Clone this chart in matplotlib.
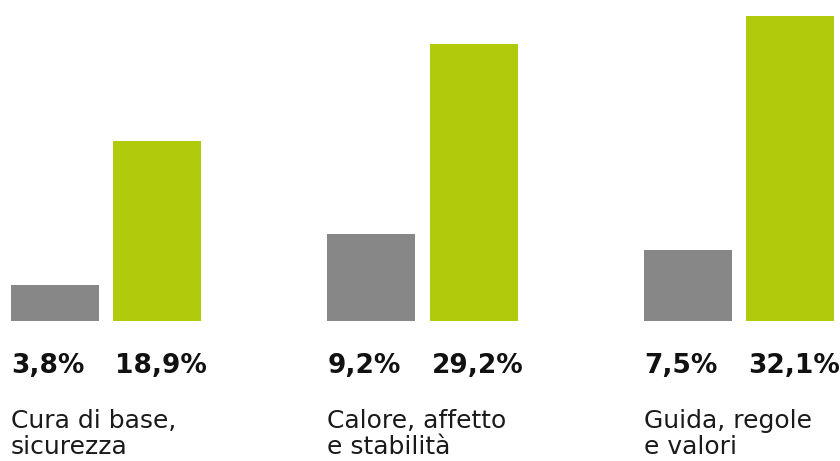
import matplotlib.pyplot as plt
import numpy as np

categories = ["Cura di base,\nsicurezza", "Calore, affetto\ne stabilità", "Guida, regole\ne valori"]
gray_values = [3.8, 9.2, 7.5]
green_values = [18.9, 29.2, 32.1]
gray_labels = ["3,8%", "9,2%", "7,5%"]
green_labels = ["18,9%", "29,2%", "32,1%"]

GRAY = "#878787"
GREEN = "#b1cb0c"

fig = plt.figure(figsize=(8.4, 4.61), dpi=100)
ax = fig.add_axes([0, 0, 1, 1])
ax.set_axis_off()

x = np.arange(len(categories))
w = 0.278
off = 0.162
ax.bar(x - off, gray_values, width=w, color=GRAY)
ax.bar(x + off, green_values, width=w, color=GREEN)

ax.set_xlim(-0.335, 2.319)
ax.set_ylim(-14.74, 33.79)

font = ["DejaVu Sans"]
for i in range(len(categories)):
    ax.text(x[i] - off - w / 2, -5.47, gray_labels[i], ha="left", va="baseline",
            fontsize=19, fontweight="bold", family=font, color="#111111")
    ax.text(x[i] + off - w / 2 + 0.006, -5.47, green_labels[i], ha="left", va="baseline",
            fontsize=19, fontweight="bold", family=font, color="#111111")
    lines = categories[i].split("\n")
    for j, ln in enumerate(lines):
        ax.text(x[i] - off - w / 2, -11.25 - 2.8 * j, ln, ha="left", va="baseline",
                fontsize=18, family=font, color="#1a1a1a")

fig.savefig("out.png", dpi=100)
